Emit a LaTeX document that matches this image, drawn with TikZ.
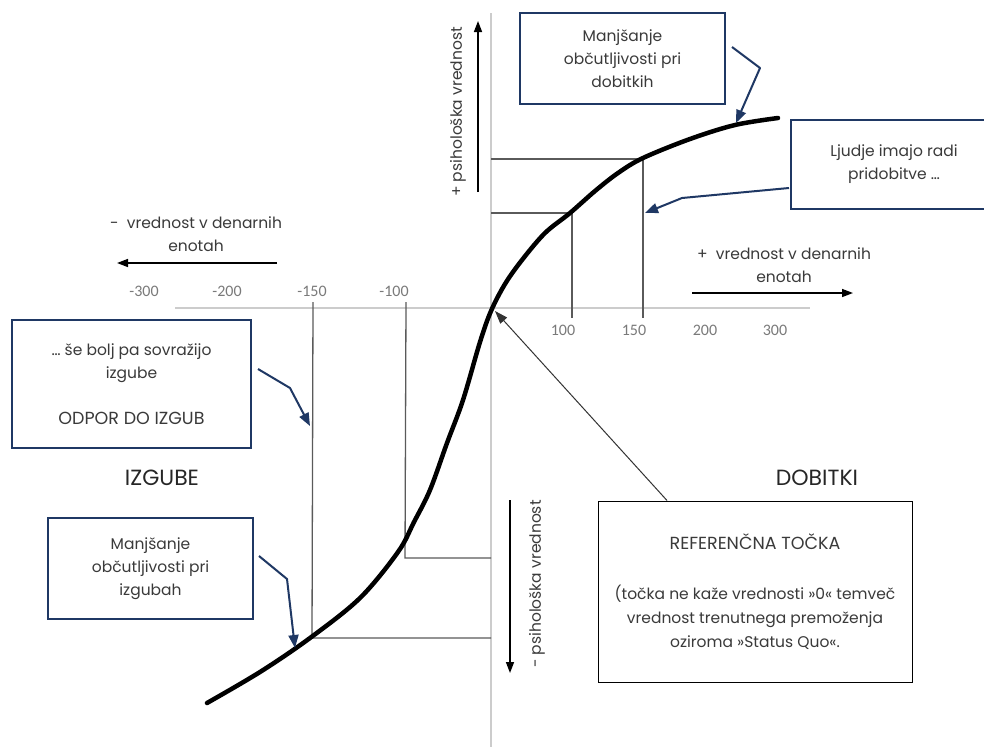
\documentclass[tikz,border=0pt]{standalone}
\usepackage{fontspec}
\setmainfont{Poppins}
\newfontfamily\tickfont{Carlito}
\usetikzlibrary{arrows.meta}
\definecolor{navy}{HTML}{1F3864}
\definecolor{txt}{HTML}{3A3A3A}
\definecolor{axisgray}{HTML}{CCCCCC}
\definecolor{guide}{HTML}{5A5A5A}
\definecolor{tickgray}{HTML}{7A7A7A}
\newcommand{\capsline}[1]{{\fontsize{17.5}{24}\selectfont #1}}

\begin{document}
\begin{tikzpicture}[x=1pt,y=-1pt,
  callout/.style={draw=navy, line width=2pt, fill=white, align=center, text=txt,
    font=\fontsize{15.5}{23}\selectfont, inner sep=0pt},
  refbox/.style={draw=black, line width=1pt, fill=white, align=center, text=txt,
    font=\fontsize{15.5}{24}\selectfont, inner sep=0pt},
  navyarrow/.style={draw=navy, line width=2pt, line join=round,
    -{Triangle[length=13pt,width=10pt]}},
  axisarrow/.style={draw=black, line width=1.5pt, -{Triangle[length=11pt,width=8pt]}},
  guideline/.style={draw=guide, line width=1.3pt},
  tick/.style={text=tickgray, font=\tickfont\fontsize{16}{16}\selectfont, inner sep=0pt},
  axlabel/.style={text=txt, align=center, font=\fontsize{15.5}{23}\selectfont, inner sep=0pt},
  side/.style={text=black!85, font=\fontsize{22}{22}\selectfont, inner sep=0pt}]

\useasboundingbox (0,0) rectangle (984,747);
\clip (0,0) rectangle (984,747);
\fill[white] (0,0) rectangle (984,747);

% axes
\coordinate (O) at (491,308);
\draw[axisgray, line width=1.3pt] (175,308) -- (810,308);
\draw[axisgray, line width=1.8pt] (491,13) -- (491,747);

% tick labels
\node[tick] (tm300) at (144,291) {-300};
\node[tick] (tm200) at (227,291) {-200};
\node[tick] (tm150) at (312,291) {-150};
\node[tick] (tm100) at (394,291) {-100};
\node[tick] (tp100) at (563,330) {100};
\node[tick] (tp150) at (634,330) {150};
\node[tick] (tp200) at (705,330) {200};
\node[tick] (tp300) at (775,330) {300};

% guide lines from the curve to the axes
\coordinate (g100) at (572,213);
\coordinate (g150) at (643,159);
\coordinate (gm100) at (405,555);
\coordinate (gm150) at (312,638);
\draw[guideline] (491,213) -- (g100) -- (572,318);
\draw[guideline] (491,159) -- (g150) -- (643,318);
\draw[guideline] (491,558) -- (405,558) -- (406,302);
\draw[guideline] (491,638) -- (gm150) -- (313,302);

% value function
\draw[black, line width=4.5pt, line cap=round]
  plot[smooth, tension=0.55] coordinates {
   (207,703) (260,672) (310,638) (360,598) (398,552) (414,522) (430,490)
   (447,443) (463,400) (480,342) (491,311) (505,284) (522,260) (545,233)
   (570,213) (595,191) (618,173) (643,158) (690,139) (735,125) (778,118)};

% axis arrows and their labels
\coordinate (vpA) at (478,192);
\coordinate (vpB) at (478,21);
\draw[axisarrow] (vpA) -- (vpB);
\node[axlabel, rotate=90] (lvp) at (458,112) {+ psihološka vrednost};

\coordinate (vnA) at (510,500);
\coordinate (vnB) at (510,673);
\draw[axisarrow] (vnA) -- (vnB);
\node[axlabel, rotate=90] (lvn) at (537,584) {- psihološka vrednost};

\coordinate (hnA) at (277,263);
\coordinate (hnB) at (117,263);
\draw[axisarrow] (hnA) -- (hnB);
\node[axlabel] (lhn) at (196,234) {-\ \ vrednost v denarnih\\enotah};

\coordinate (hpA) at (692,293);
\coordinate (hpB) at (853,293);
\draw[axisarrow] (hpA) -- (hpB);
\node[axlabel] (lhp) at (784,265) {+\ \ vrednost v denarnih\\enotah};

% side captions
\node[side] (izg) at (162,478) {IZGUBE};
\node[side] (dob) at (817,478) {DOBITKI};

% callout boxes
\node[callout, minimum width=205pt, minimum height=91pt] (b1) at (622.5,58.5)
  {Manjšanje\\občutljivosti pri\\dobitkih};
\node[callout, minimum width=206pt, minimum height=89pt] (b2) at (894,164.5)
  {Ljudje imajo radi\\pridobitve …};
\node[callout, minimum width=239pt, minimum height=128pt] (b3) at (131.5,384)
  {… še bolj pa sovražijo\\izgube\\[23pt]\capsline{ODPOR DO IZGUB}};
\node[callout, minimum width=205pt, minimum height=101pt] (b4) at (150.5,568.5)
  {Manjšanje\\občutljivosti pri\\izgubah};
\node[refbox, minimum width=314pt, minimum height=181pt] (b5) at (755,591.5)
  {\capsline{REFERENČNA TOČKA}\\[26pt](točka ne kaže vrednosti »0« temveč\\vrednost trenutnega premoženja\\oziroma »Status Quo«.};

% callout pointers
\coordinate (p1s) at (732,47);  \coordinate (p1m) at (760,68);  \coordinate (p1t) at (736,123);
\coordinate (p2s) at (789,188); \coordinate (p2m) at (682,198); \coordinate (p2t) at (645,213);
\coordinate (p3s) at (258,369); \coordinate (p3m) at (290,388); \coordinate (p3t) at (310,426);
\coordinate (p4s) at (259,556); \coordinate (p4m) at (287,579); \coordinate (p4t) at (295,648);
\draw[navyarrow] (p1s) -- (p1m) -- (p1t);
\draw[navyarrow] (p2s) -- (p2m) -- (p2t);
\draw[navyarrow] (p3s) -- (p3m) -- (p3t);
\draw[navyarrow] (p4s) -- (p4m) -- (p4t);

% reference point pointer
\coordinate (rpt) at (495,311);
\draw[black!80, line width=1pt, -{Triangle[length=13pt,width=9pt]}] (b5.north -| 667,0) -- (rpt);
\end{tikzpicture}
\end{document}
